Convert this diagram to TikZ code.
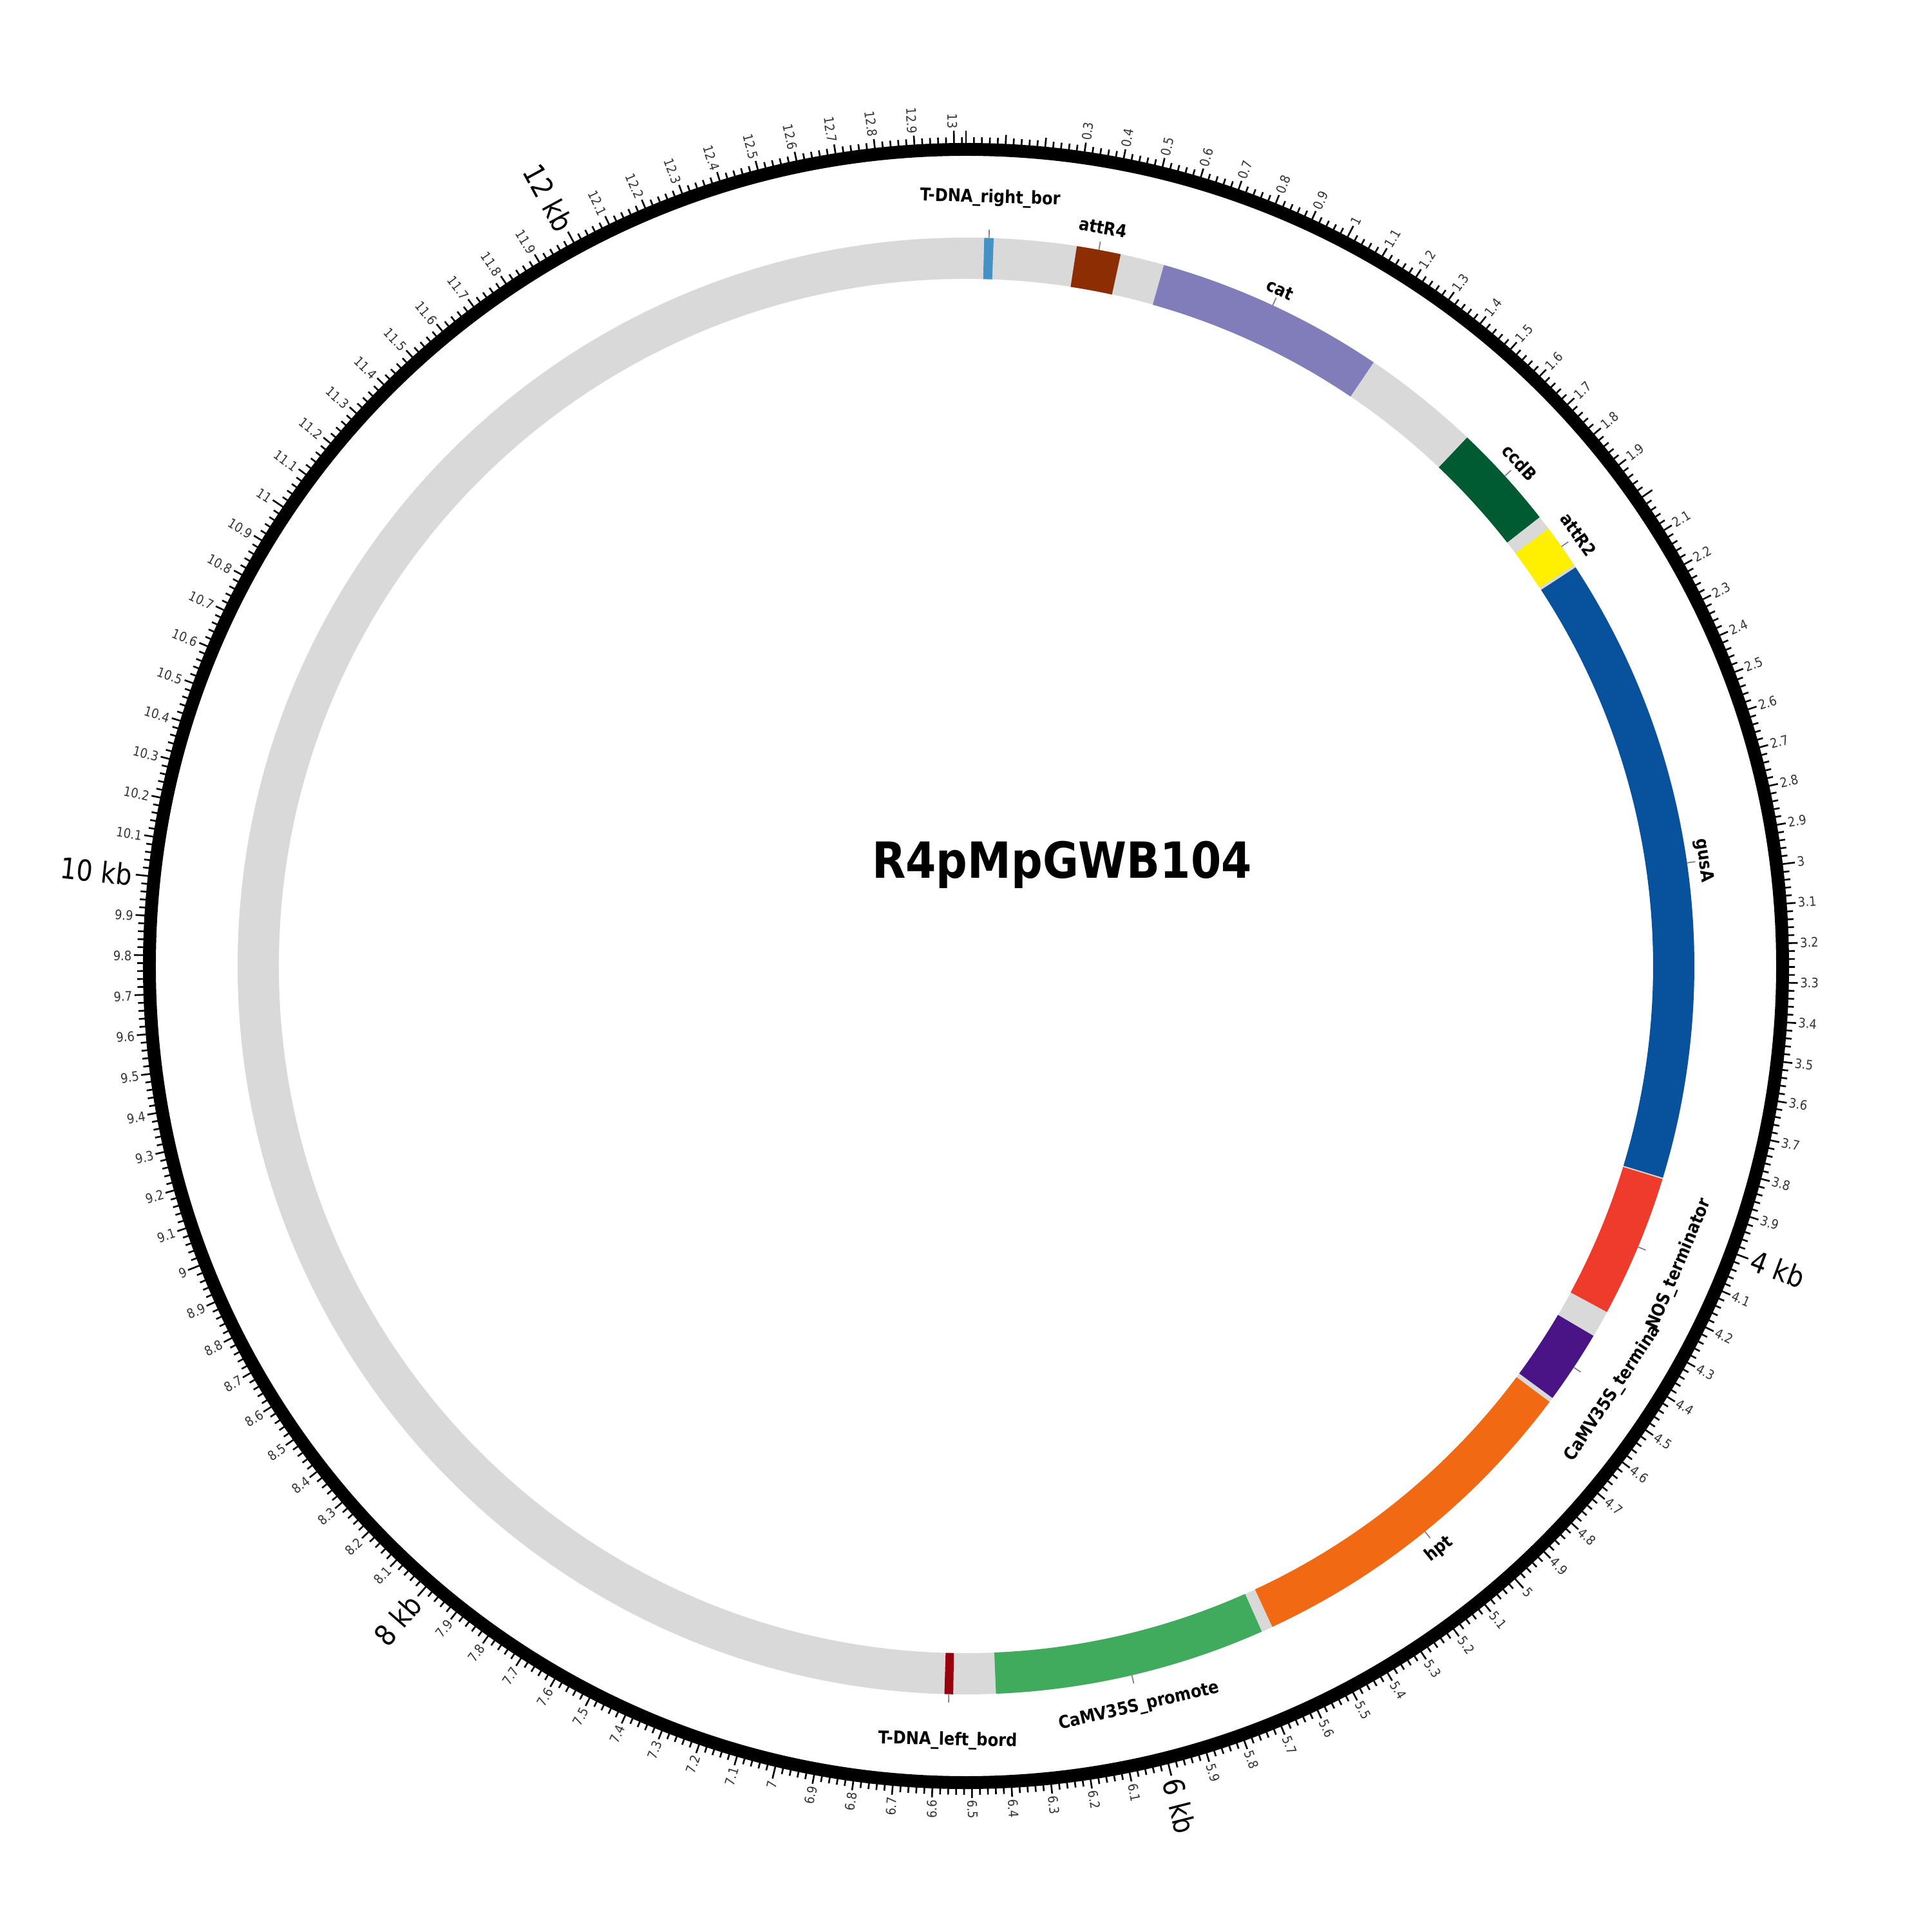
\documentclass[tikz,border=0pt]{standalone}
\usepackage{fontspec}
\setmainfont{DejaVu Sans}
\newfontfamily\mapfont[FakeStretch=0.88]{DejaVu Sans}
\usetikzlibrary{calc}

\definecolor{bggrey}{RGB}{217,217,217}
\definecolor{rborder}{RGB}{66,146,198}
\definecolor{attrfour}{RGB}{140,45,4}
\definecolor{catcol}{RGB}{128,125,186}
\definecolor{ccdbcol}{RGB}{0,90,50}
\definecolor{attrtwo}{RGB}{255,240,0}
\definecolor{gusacol}{RGB}{8,81,156}
\definecolor{noscol}{RGB}{239,59,44}
\definecolor{camvterm}{RGB}{74,20,134}
\definecolor{hptcol}{RGB}{241,105,19}
\definecolor{camvprom}{RGB}{65,171,93}
\definecolor{lborder}{RGB}{153,0,13}

\newcommand{\plen}{13.033} % plasmid length, kb

\begin{document}
\begin{tikzpicture}[
        every node/.style={inner sep=0pt},
        ticklbl/.style={font=\mapfont\fontsize{5.8}{6}\selectfont, text=black!80},
        kblbl/.style={font=\mapfont\fontsize{12.8}{13}\selectfont},
        featlbl/.style={font=\mapfont\bfseries\fontsize{7.8}{8}\selectfont},
        lbltick/.style={draw=black!50, line width=0.5pt}
    ]
    \useasboundingbox (-15,-15) rectangle (15,15);

    % backbone
    \fill[bggrey, even odd rule] (0,0) circle (11.31) (0,0) circle (10.67);

    % features: start/end (kb), colour, label, label radius
    \foreach \s/\e/\col/\txt/\lr [count=\n] in {
            0.052/0.079/rborder/T-DNA\_right\_bor/11.93,
            0.317/0.444/attrfour/attR4/11.66,
            0.571/1.232/catcol/cat/11.58,
            1.574/1.881/ccdbcol/ccdB/11.62,
            1.922/2.049/attrtwo/attR2/11.63,
            2.057/3.870/gusacol/gusA/11.57,
            3.874/4.285/noscol/NOS\_terminator/12.01,
            4.363/4.575/camvterm/CaMV35S\_termina/12.04,
            4.589/5.616/hptcol/hpt/11.66,
            5.649/6.431/camvprom/CaMV35S\_promote/11.81,
            6.553/6.578/lborder/T-DNA\_left\_bord/12.03}
    {
        \pgfmathsetmacro\aS{90-\s*360/\plen}
        \pgfmathsetmacro\aE{90-\e*360/\plen}
        \pgfmathsetmacro\aM{(\aS+\aE)/2}
        \fill[\col] (\aS:11.31) arc[start angle=\aS, end angle=\aE, radius=11.31]
            -- (\aE:10.67) arc[start angle=\aE, end angle=\aS, radius=10.67] -- cycle;
        \coordinate (f\n) at (\aM:11.31);
        \coordinate (t\n) at (\aM:11.44);
        \draw[lbltick] (f\n) -- (t\n);
        % text on the lower half is turned round
        \pgfmathsetmacro\rot{\aM<0 ? \aM+90 : \aM-90}
        \node[featlbl, rotate=\rot] (l\n) at (\aM:\lr) {\txt};
    }

    % scale ring
    \draw[line width=0.2cm] (0,0) circle (12.68);
    \foreach \i in {0,...,651}{
        \pgfmathsetmacro\a{90-\i*0.02*360/\plen}
        \pgfmathsetmacro\tl{mod(\i,50)==0 ? 12.97 : (mod(\i,5)==0 ? 12.92 : 12.87)}
        \draw[line width=0.75pt] (\a:12.76) -- (\a:\tl);
    }

    % scale labels
    \foreach \j in {3,...,130}{
        \pgfmathsetmacro\a{90-\j*36/\plen}
        \pgfmathtruncatemacro\isint{mod(\j,10)==0}
        \pgfmathtruncatemacro\isbig{and(mod(\j,20)==0, \j>20)}
        \pgfmathsetmacro\v{\j/10}
        \ifnum\j=20 \else
            \ifnum\isbig=1
                \pgfmathtruncatemacro\kb{\j/10}
                \ifnum\j<66
                    \node[kblbl, rotate=\a, anchor=west] (n\j) at (\a:13.02) {\kb\ kb};
                \else
                    \node[kblbl, rotate=\a+180, anchor=east] (n\j) at (\a:13.02) {\kb\ kb};
                \fi
            \else
                \pgfmathsetmacro\r{\isint==1 ? 13.0 : 12.95}
                \ifnum\j<66
                    \node[ticklbl, rotate=\a, anchor=west] (n\j) at (\a:\r)
                        {\pgfmathprintnumber[fixed,precision=1,assume math mode=true]{\v}};
                \else
                    \node[ticklbl, rotate=\a+180, anchor=east] (n\j) at (\a:\r)
                        {\pgfmathprintnumber[fixed,precision=1,assume math mode=true]{\v}};
                \fi
            \fi
        \fi
    }

    \node[font=\mapfont\bfseries\fontsize{22}{24}\selectfont] (title) at (1.49,1.57) {R4pMpGWB104};
\end{tikzpicture}
\end{document}
